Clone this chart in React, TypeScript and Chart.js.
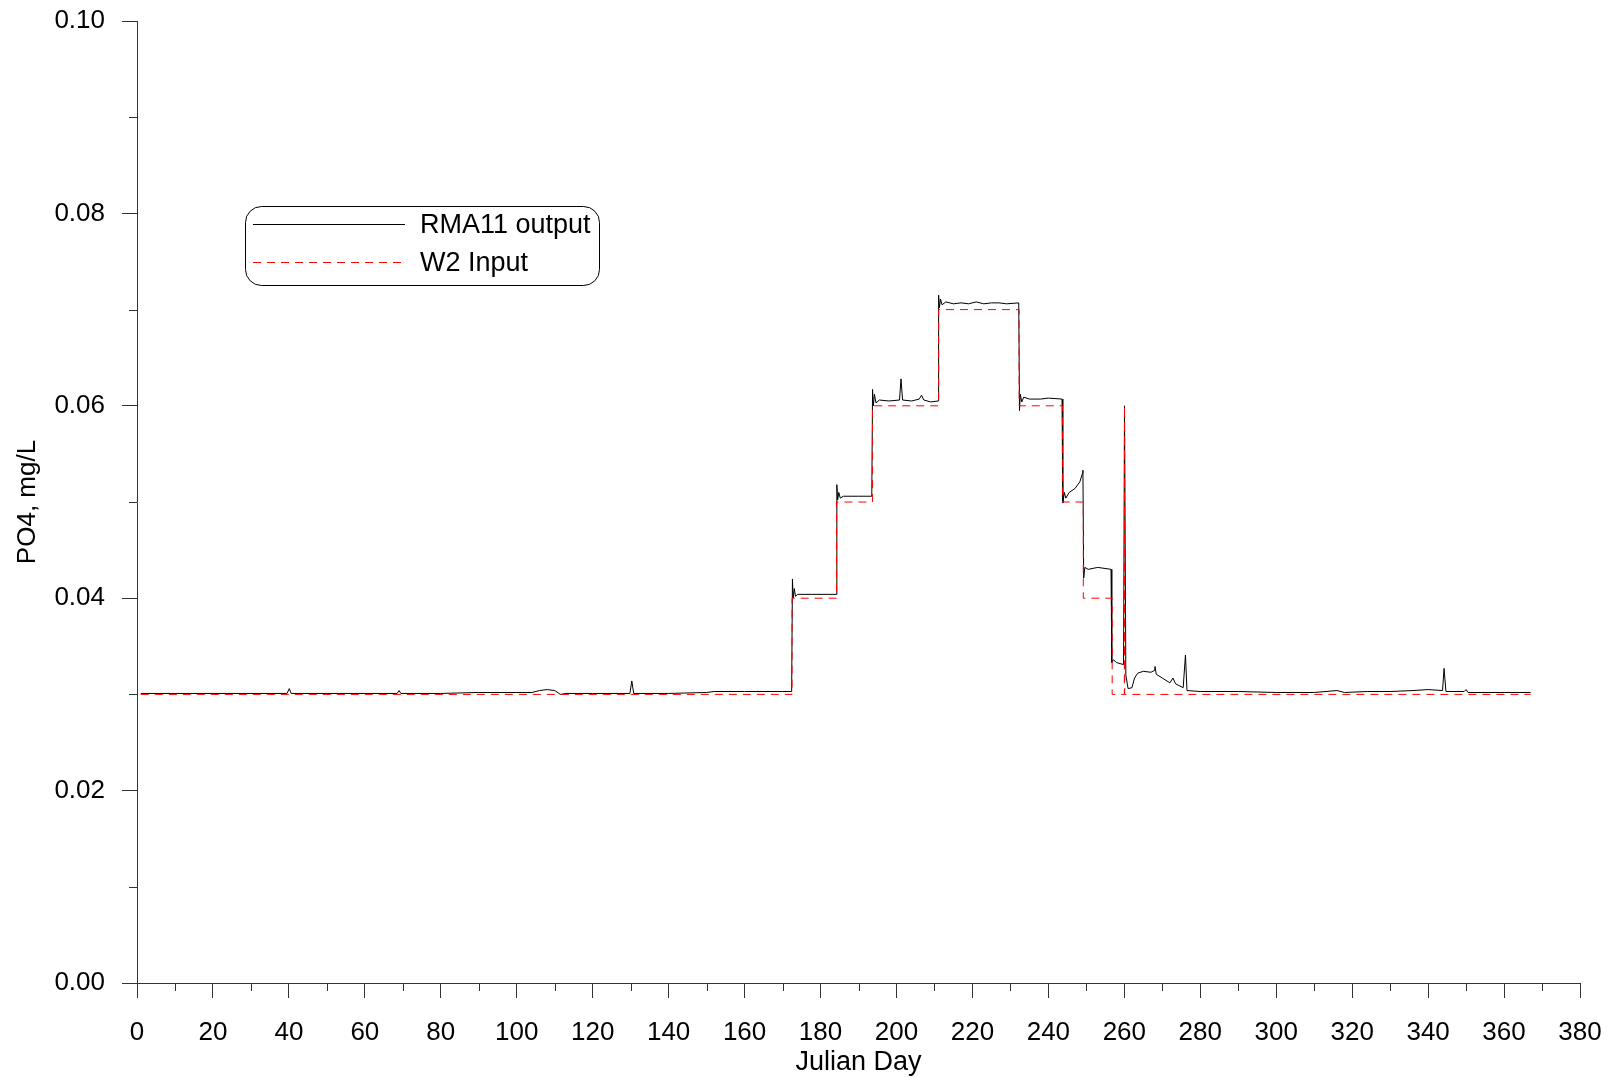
import React, { useEffect, useRef } from "react";
import { Chart, registerables } from "chart.js";

Chart.register(...registerables);

// ---- Data ----
const rmaDays: number[] = [
  1, 10, 20, 30, 39.5, 40.1, 40.6, 50, 60, 68.5, 69, 69.5, 80, 90, 100, 104, 106, 108, 110, 111.5,
  113, 120, 129.8, 130.3, 130.8, 140, 150, 152, 160, 170, 172.4, 172.6, 172.8, 173.1, 173.4, 174,
  178, 182, 184.1, 184.3, 184.5, 184.8, 185.2, 186, 190, 193.5, 193.7, 193.9, 194.2, 194.6, 195.5,
  198, 200.8, 201.2, 201.6, 204, 206, 206.6, 207.2, 209, 211, 211.1, 211.3, 211.6, 212, 213, 215,
  217, 219, 221, 223, 225, 227, 229, 232.2, 232.4, 232.6, 233, 233.5, 235, 238, 240, 243.6, 243.8,
  244.2, 244.6, 245.5, 247, 248.3, 249, 249.1, 249.3, 249.6, 250.5, 253, 256.5, 256.7, 257.1, 258,
  259.8, 260.05, 260.4, 261, 262, 262.7, 263.5, 265, 267, 268, 268.1, 268.4, 270, 272, 272.8, 273.5,
  275.5, 276.1, 276.5, 280, 290, 300, 310, 316, 318, 324, 330, 336, 340, 343.8, 344.2, 344.7, 349.5,
  350, 350.5, 360, 367,
];
const rmaValues: number[] = [
  0.0301, 0.0301, 0.0301, 0.0301, 0.0301, 0.0306, 0.0301, 0.0301, 0.0301, 0.0301, 0.0304, 0.0301,
  0.0301, 0.0302, 0.0302, 0.0302, 0.0304, 0.0305, 0.0304, 0.03, 0.0301, 0.0301, 0.0301, 0.0314,
  0.0301, 0.0301, 0.0302, 0.0303, 0.0303, 0.0303, 0.0303, 0.042, 0.04, 0.041, 0.0402, 0.0404,
  0.0404, 0.0404, 0.0404, 0.0518, 0.0502, 0.051, 0.0504, 0.0506, 0.0506, 0.0506, 0.0617, 0.06,
  0.0612, 0.0603, 0.0606, 0.0605, 0.0606, 0.0628, 0.0606, 0.0605, 0.0607, 0.0611, 0.0606, 0.0604,
  0.0605, 0.0715, 0.0702, 0.0711, 0.0705, 0.0708, 0.0706, 0.0707, 0.0706, 0.0708, 0.0706, 0.0707,
  0.0707, 0.0706, 0.0707, 0.0595, 0.0612, 0.0604, 0.0609, 0.0607, 0.0607, 0.0608, 0.0607, 0.0499,
  0.051, 0.0504, 0.051, 0.0514, 0.0521, 0.053, 0.0533, 0.0421, 0.0432, 0.043, 0.0432, 0.043,
  0.0333, 0.0336, 0.0333, 0.0331, 0.06, 0.032, 0.0306, 0.0307, 0.0317, 0.0322, 0.0324, 0.0323,
  0.0325, 0.0329, 0.0321, 0.0317, 0.0312, 0.0317, 0.0311, 0.0307, 0.0341, 0.0304, 0.0303, 0.0303,
  0.0302, 0.0302, 0.0304, 0.0302, 0.0303, 0.0303, 0.0304, 0.0305, 0.0304, 0.0327, 0.0303, 0.0303,
  0.0305, 0.0302, 0.0302, 0.0302,
];
const w2Days: number[] = [
  1, 172.5, 172.5, 184.2, 184.2, 193.7, 193.7, 211.1, 211.1, 232.3, 232.3, 243.7, 243.7, 249.2,
  249.2, 256.8, 256.8, 260, 260.05, 260.1, 367,
];
const w2Values: number[] = [
  0.03, 0.03, 0.04, 0.04, 0.05, 0.05, 0.06, 0.06, 0.07, 0.07, 0.06, 0.06, 0.05, 0.05, 0.04, 0.04,
  0.03, 0.03, 0.06, 0.03, 0.03,
];
const seriesNames: string[] = ["RMA11 output", "W2 Input"];
const xMin = 0;
const xMax = 380;
const xStep = 20;
const yMin = 0;
const yMax = 0.1;
const yStep = 0.02;
const xTitle = "Julian Day";
const yTitle = "PO4, mg/L";

const FONT = "'Liberation Sans', Arial, sans-serif";

const minorTicks = {
  id: "minorTicks",
  afterDraw(chart: any) {
    const { ctx, chartArea, scales } = chart;
    ctx.save();
    ctx.strokeStyle = "#333";
    ctx.lineWidth = 1;
    ctx.beginPath();
    for (let v = xMin + xStep / 2; v < xMax; v += xStep) {
      const px = Math.round(scales.x.getPixelForValue(v)) + 0.5;
      ctx.moveTo(px, chartArea.bottom);
      ctx.lineTo(px, chartArea.bottom + 8);
    }
    for (let v = yMin + yStep / 2; v < yMax; v += yStep) {
      const py = Math.round(scales.y.getPixelForValue(v)) + 0.5;
      ctx.moveTo(chartArea.left - 8, py);
      ctx.lineTo(chartArea.left, py);
    }
    ctx.stroke();
    ctx.restore();
  },
};

const boxLegend = {
  id: "boxLegend",
  afterDraw(chart: any) {
    const { ctx } = chart;
    const x0 = 245.5, y0 = 206.5, w = 354, h = 79, r = 16;
    ctx.save();
    ctx.strokeStyle = "#000";
    ctx.lineWidth = 1;
    ctx.beginPath();
    ctx.moveTo(x0 + r, y0);
    ctx.lineTo(x0 + w - r, y0);
    ctx.arcTo(x0 + w, y0, x0 + w, y0 + r, r);
    ctx.lineTo(x0 + w, y0 + h - r);
    ctx.arcTo(x0 + w, y0 + h, x0 + w - r, y0 + h, r);
    ctx.lineTo(x0 + r, y0 + h);
    ctx.arcTo(x0, y0 + h, x0, y0 + h - r, r);
    ctx.lineTo(x0, y0 + r);
    ctx.arcTo(x0, y0, x0 + r, y0, r);
    ctx.closePath();
    ctx.stroke();

    const rows = [
      { y: 224.5, color: "#000", dash: [] as number[], label: seriesNames[0] },
      { y: 262.5, color: "#ff0000", dash: [8, 6], label: seriesNames[1] },
    ];
    ctx.font = `27px ${FONT}`;
    ctx.textBaseline = "middle";
    ctx.textAlign = "left";
    for (const row of rows) {
      ctx.strokeStyle = row.color;
      ctx.setLineDash(row.dash);
      ctx.beginPath();
      ctx.moveTo(253, row.y);
      ctx.lineTo(405, row.y);
      ctx.stroke();
      ctx.setLineDash([]);
      ctx.fillStyle = "#000";
      ctx.fillText(row.label, 420, row.y + 1);
    }
    ctx.restore();
  },
};

export default function App() {
  const ref = useRef<HTMLCanvasElement | null>(null);
  useEffect(() => {
    if (!ref.current) return;
    const rmaData = rmaDays.map((d, i) => ({ x: d, y: rmaValues[i] }));
    const w2Data = w2Days.map((d, i) => ({ x: d, y: w2Values[i] }));
    const chart = new Chart(ref.current, {
      type: "line",
      data: {
        datasets: [
          {
            label: seriesNames[0],
            data: rmaData,
            borderColor: "#000",
            borderWidth: 1,
            pointRadius: 0,
            tension: 0,
            order: 1,
          },
          {
            label: seriesNames[1],
            data: w2Data,
            borderColor: "#ff0000",
            borderWidth: 1,
            borderDash: [8, 6],
            pointRadius: 0,
            tension: 0,
            order: 0,
          },
        ],
      },
      options: {
        responsive: false,
        animation: false,
        parsing: false as any,
        normalized: true,
        layout: { padding: { left: 0, right: 30, top: 21, bottom: 0 } },
        plugins: {
          legend: { display: false },
          tooltip: { enabled: false },
        },
        scales: {
          x: {
            type: "linear",
            min: xMin,
            max: xMax,
            afterFit: (s: any) => {
              s.height = 94;
              s.paddingLeft = 0;
              s.paddingRight = 0;
            },
            grid: {
              drawOnChartArea: false,
              drawTicks: true,
              tickLength: 15,
              color: "#333",
            },
            border: { display: true, color: "#333", width: 1 },
            ticks: {
              stepSize: xStep,
              color: "#000",
              padding: 19,
              maxRotation: 0,
              font: { family: FONT, size: 26 },
              callback: (v: any) => String(v),
            },
            title: {
              display: true,
              text: xTitle,
              color: "#000",
              font: { family: FONT, size: 27, lineHeight: 1.1 },
              padding: { top: 0, bottom: 0 },
            },
          },
          y: {
            type: "linear",
            min: yMin,
            max: yMax,
            afterFit: (s: any) => {
              s.width = 137;
              s.paddingTop = 0;
              s.paddingBottom = 0;
            },
            grid: {
              drawOnChartArea: false,
              drawTicks: true,
              tickLength: 15,
              color: "#333",
            },
            border: { display: true, color: "#333", width: 1 },
            ticks: {
              stepSize: yStep,
              color: "#000",
              padding: 17,
              font: { family: FONT, size: 26 },
              callback: (v: any) => Number(v).toFixed(2),
            },
            title: {
              display: true,
              text: yTitle,
              color: "#000",
              font: { family: FONT, size: 26 },
              padding: { top: 12, bottom: 0 },
            },
          },
        },
      },
      plugins: [minorTicks, boxLegend],
    });
    return () => chart.destroy();
  }, []);

  return (
    <div style={{ position: "fixed", left: 0, top: 0, width: 1610, height: 1077, background: "#fff" }}>
      <canvas ref={ref} width={1610} height={1077} style={{ display: "block" }} />
    </div>
  );
}
